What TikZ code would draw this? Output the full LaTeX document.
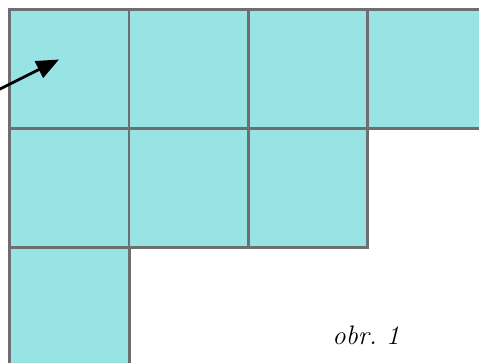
\documentclass[tikz,border=0pt]{standalone}
\usetikzlibrary{arrows.meta}
\definecolor{cellfill}{RGB}{152,227,227}
\definecolor{cellline}{RGB}{110,110,110}
\tikzset{
  cell/.style={draw=cellline,fill=cellfill,line width=2pt,minimum size=2.98cm,inner sep=0pt,outer sep=0pt},
  pointer/.style={line width=2pt,-{Triangle[length=16pt,width=13pt]}}
}
\begin{document}
\begin{tikzpicture}[x=0.025cm,y=-0.025cm]
	\useasboundingbox (0,0) rectangle (479,362);
	\clip (0,0) rectangle (479,362);
	% row 1
	\foreach \c in {0,1,2,3}
		\node[cell] (a\c) at ({69.5+119.2*\c},69) {};
	% row 2
	\foreach \c in {0,1,2}
		\node[cell] (b\c) at ({69.5+119.2*\c},188) {};
	% row 3
	\node[cell] (c0) at (69.5,307) {};
	\coordinate (tail) at (-10,94);
	\coordinate (tip) at (59,59.5);
	\draw[pointer] (tail) -- (tip);
	\node[font=\fontsize{19}{21}\selectfont\itshape] (label) at (366,335) {obr.\ 1};
\end{tikzpicture}
\end{document}
